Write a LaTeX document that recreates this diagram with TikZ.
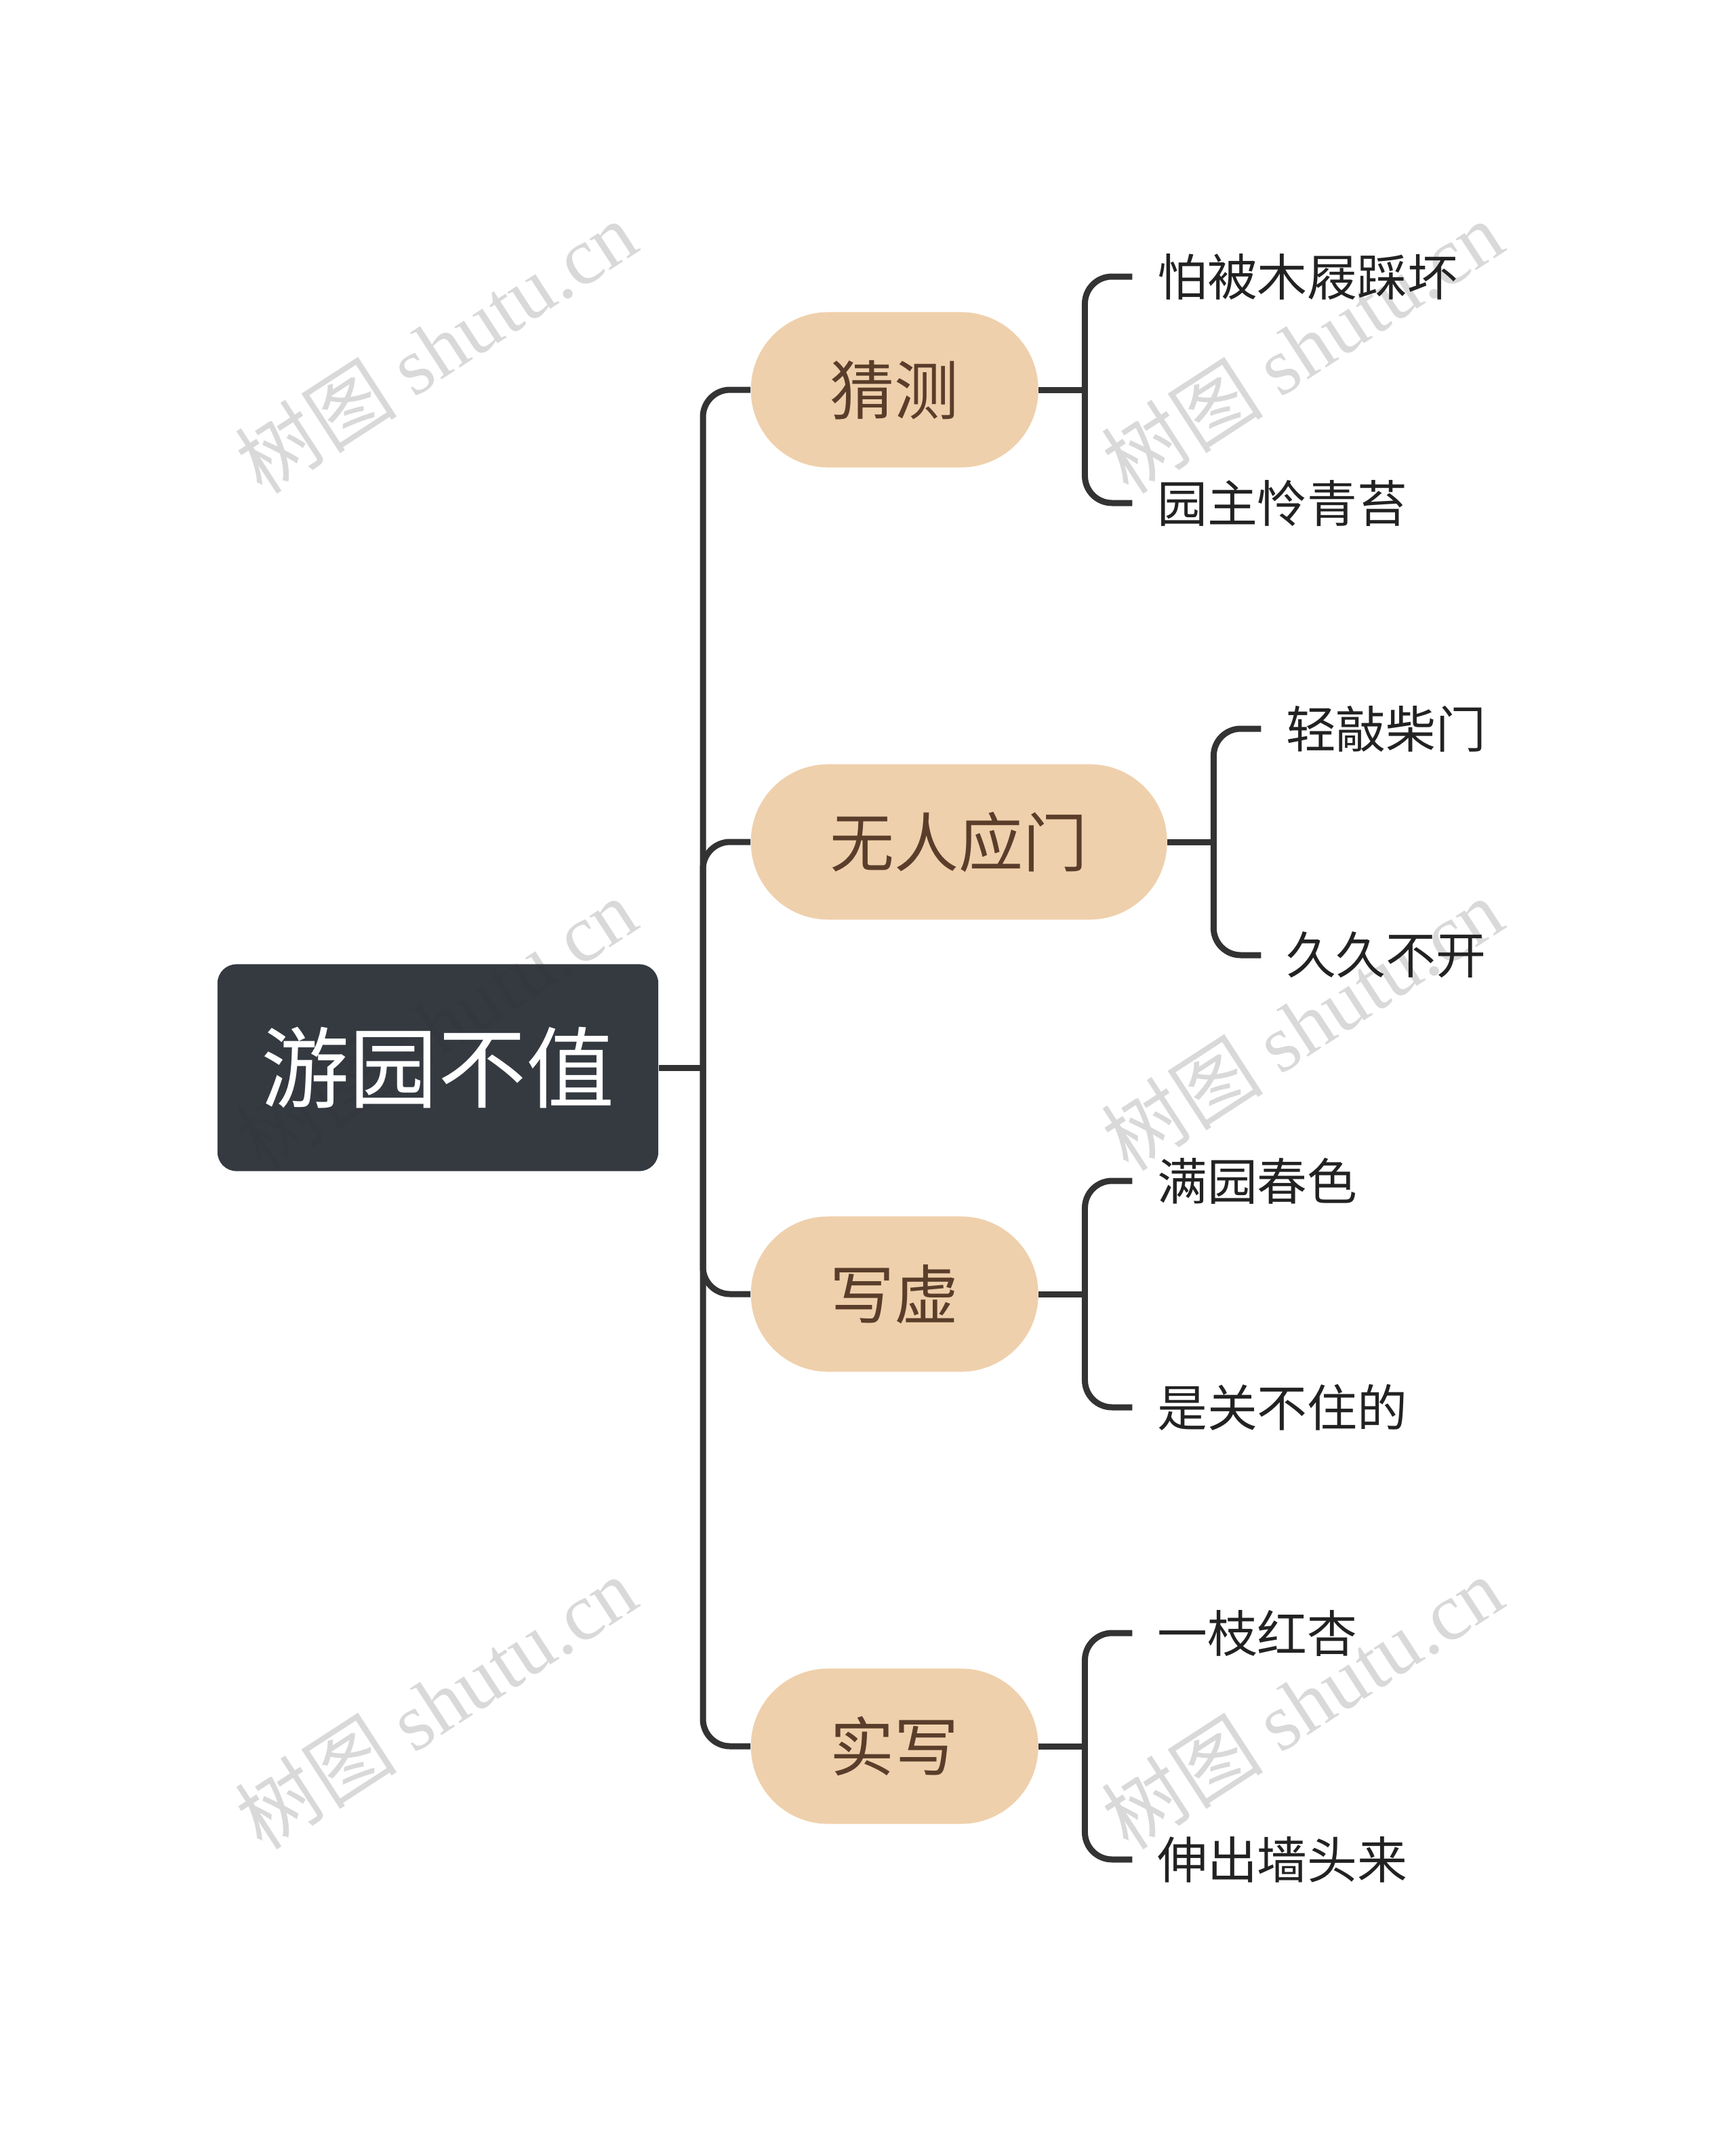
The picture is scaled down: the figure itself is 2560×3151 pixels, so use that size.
\documentclass[tikz,border=0pt]{standalone}
\usepackage{fontspec}
\setmainfont{Noto Sans CJK SC}
\newfontfamily\wmlatin{Liberation Serif}
\usetikzlibrary{calc}

\definecolor{rootfill}{HTML}{2D3239}
\definecolor{topicfill}{HTML}{EFD0AC}
\definecolor{topictext}{HTML}{5A3E2B}
\definecolor{linecol}{HTML}{333333}
\definecolor{leaftext}{HTML}{222222}

\tikzset{
  rootbox/.style={rectangle, rounded corners=0.28cm, fill=rootfill, fill opacity=0.96,
    text=white, text opacity=1,
    minimum width=6.5cm, minimum height=3.05cm, inner sep=0pt,
    font=\fontsize{37pt}{44pt}\selectfont},
  topic/.style={rectangle, rounded corners=1.14cm, fill=topicfill, text=topictext,
    minimum height=2.29cm, inner xsep=1.17cm, inner ysep=0pt,
    font=\fontsize{27pt}{32pt}\selectfont},
  leaf/.style={text=leaftext, inner xsep=0.36cm, inner ysep=0pt,
    font=\fontsize{21pt}{25pt}\selectfont},
  branch/.style={draw=linecol, line width=0.09cm, rounded corners=0.4cm},
  watermark/.style={text=gray, text opacity=0.3, rotate=33, inner sep=0pt,
    font=\fontsize{34pt}{40pt}\selectfont}
}

\begin{document}
\begin{tikzpicture}[x=0.01cm, y=-0.01cm]
  \useasboundingbox (0,0) rectangle (2560,3151);

  \def\forkgap{68}  % topic edge to bracket
  \def\leafgap{70}  % bracket to leaf
  \def\leafdy{167}  % leaf offset up/down

  % Watermarks (underneath everything)
  \foreach \wx in {643,1921}{
    \foreach \wy in {512,1511,2512}{
      \node[watermark] (wm-\wx-\wy) at (\wx,\wy) {树图 {\wmlatin shutu.cn}};
    }
  }

  % Root topic and trunk
  \node[rootbox] (root) at (646,1575) {游园不值};
  \coordinate (hub) at (1037,1575);
  \draw[branch] (root.east) -- (hub);

  % Main topics, each with two leaves
  \foreach \tag/\ty/\ttxt/\upper/\lower in {
      guess/575/猜测/怕被木屐踩坏/园主怜青苔,
      door/1242/无人应门/轻敲柴门/久久不开,
      imag/1909/写虚/满园春色/是关不住的,
      real/2576/实写/一枝红杏/伸出墙头来}{
    \node[topic, anchor=west] (\tag) at (1107,\ty) {\ttxt};
    \draw[branch] (hub) |- (\tag.west);
    \draw[branch] (\tag.east) -- ++(\forkgap,0) coordinate (\tag-fork);
    \node[leaf, anchor=west] (\tag-up) at ($(\tag-fork)+(\leafgap,-\leafdy)$) {\upper};
    \node[leaf, anchor=west] (\tag-lo) at ($(\tag-fork)+(\leafgap,\leafdy)$) {\lower};
    \draw[branch] (\tag-fork) |- (\tag-up.west);
    \draw[branch] (\tag-fork) |- (\tag-lo.west);
  }
\end{tikzpicture}
\end{document}
